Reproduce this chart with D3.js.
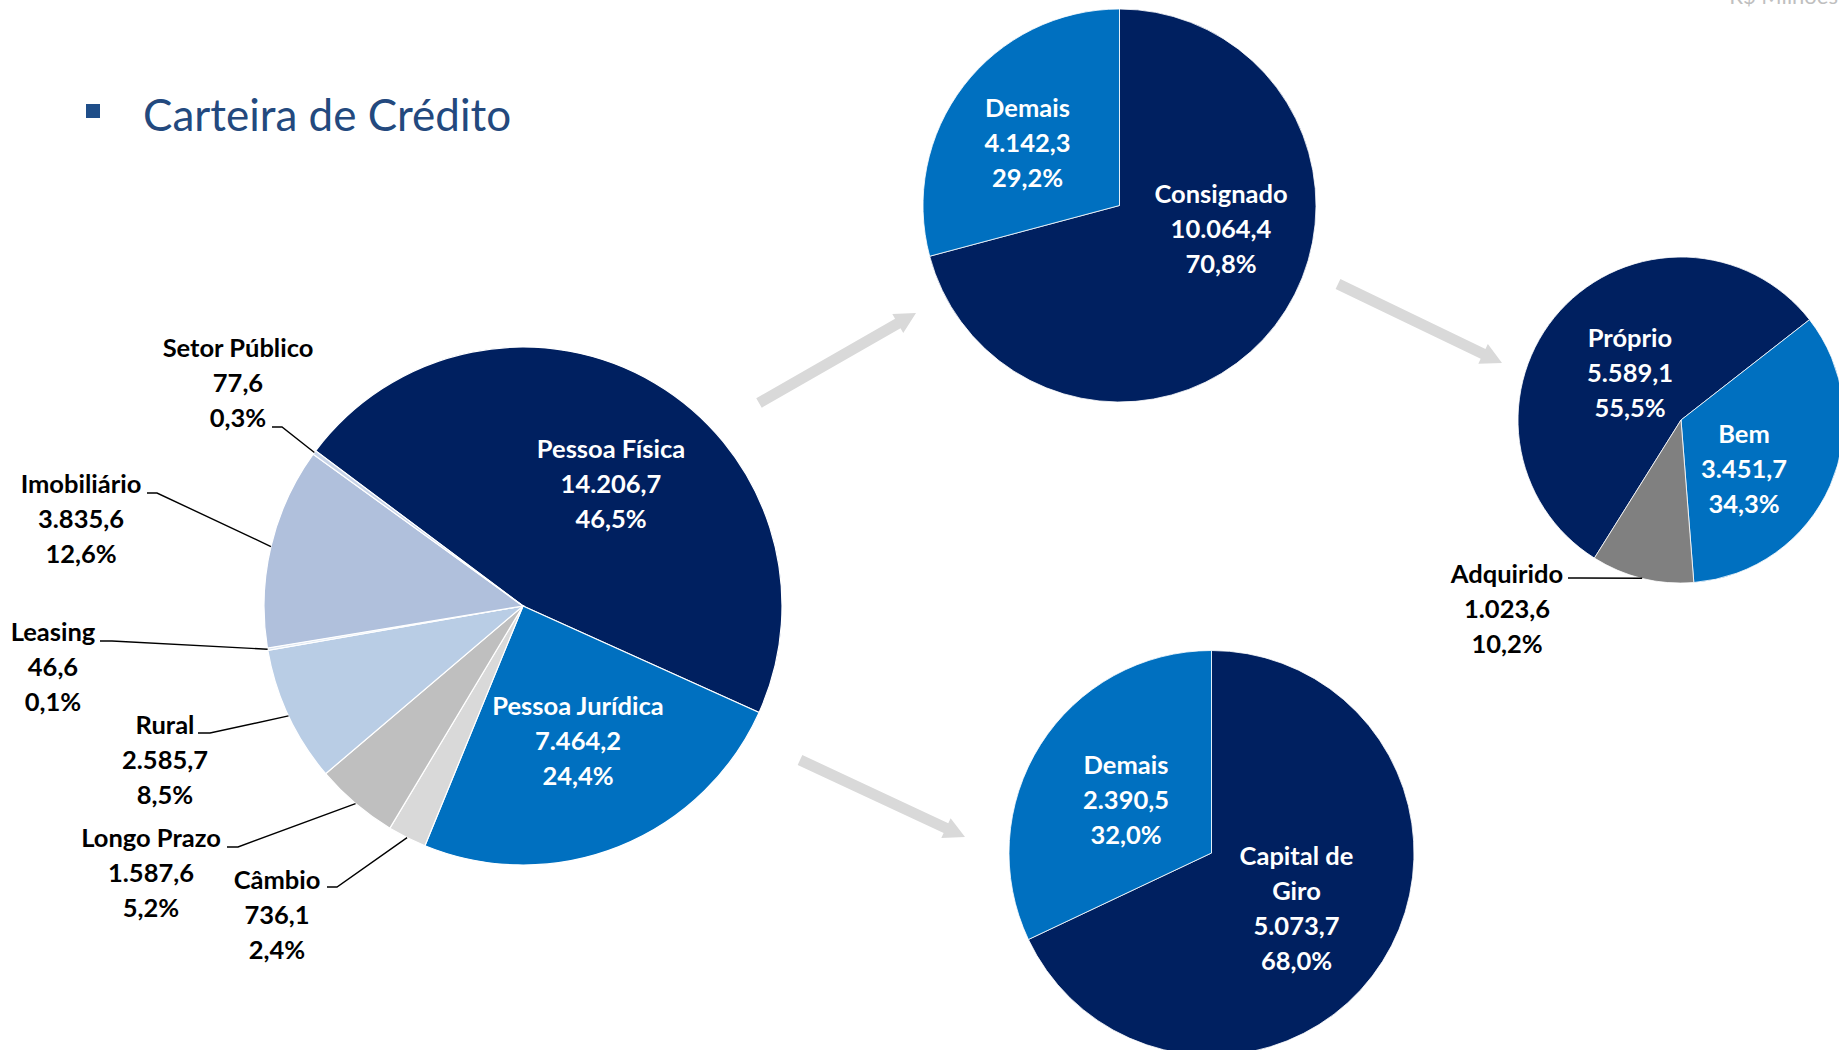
<!DOCTYPE html>
<html><head><meta charset="utf-8">
<script src="https://cdn.jsdelivr.net/npm/d3@7"></script>
<style>body{margin:0;background:#fff;} svg{display:block;}</style>
</head><body><svg id="c" width="1839" height="1050"></svg>
<script>
// ---------- DATA ----------
const mainCategories = ["Pessoa Física","Pessoa Jurídica","Câmbio","Longo Prazo","Rural","Leasing","Imobiliário","Setor Público"];
const mainValues = [14206.7, 7464.2, 736.1, 1587.6, 2585.7, 46.6, 3835.6, 77.6];
const mainPercents = ["46,5%","24,4%","2,4%","5,2%","8,5%","0,1%","12,6%","0,3%"];

const pfCategories = ["Consignado","Demais"];
const pfValues = [10064.4, 4142.3];
const pfPercents = ["70,8%","29,2%"];

const veicCategories = ["Próprio","Bem","Adquirido"];
const veicValues = [5589.1, 3451.7, 1023.6];
const veicPercents = ["55,5%","34,3%","10,2%"];

const pjCategories = ["Capital de Giro","Demais"];
const pjValues = [5073.7, 2390.5];
const pjPercents = ["68,0%","32,0%"];

const titleText = "Carteira de Crédito";
const unitText = "R$ Milhões";

// ---------- STYLE / LAYOUT ----------
const NAVY = "#002060", BLUE = "#0070C0";
const FONT = "Lato, 'Open Sans', sans-serif";
const LABEL_SIZE = 25.5, LINE_H = 35;

const locale = d3.formatLocale({decimal:",", thousands:".", grouping:[3], currency:["R$ ",""]});
const fmt = locale.format(",.1f");

const svg = d3.select("#c");

// arrows (behind)
const arrows = [
  {x1:759, y1:403, x2:916, y2:313},
  {x1:800, y1:760, x2:965, y2:837},
  {x1:1338, y1:284, x2:1502, y2:363}
];
arrows.forEach(a => {
  const dx = a.x2-a.x1, dy = a.y2-a.y1, len = Math.hypot(dx,dy);
  const ux = dx/len, uy = dy/len, nx = -uy, ny = ux;
  const sw = 5.5, hw = 11, hl = 21;
  const bx = a.x2 - ux*hl, by = a.y2 - uy*hl;
  const pts = [
    [a.x1+nx*sw, a.y1+ny*sw], [bx+nx*sw, by+ny*sw], [bx+nx*hw, by+ny*hw],
    [a.x2, a.y2], [bx-nx*hw, by-ny*hw], [bx-nx*sw, by-ny*sw], [a.x1-nx*sw, a.y1-ny*sw]
  ];
  svg.append("polygon").attr("points", pts.map(p=>p.join(",")).join(" ")).attr("fill","#D9D9D9");
});

function drawPie(cfg){
  const g = svg.append("g").attr("transform", `translate(${cfg.cx},${cfg.cy})`);
  const s = cfg.start*Math.PI/180;
  const pie = d3.pie().sort(null).value(d=>d.value).startAngle(s).endAngle(s+2*Math.PI);
  const data = cfg.cats.map((c,i)=>({cat:c, value:cfg.values[i], pct:cfg.pcts[i], color:cfg.colors[i]}));
  const arcs = pie(data);
  const arc = d3.arc().innerRadius(0).outerRadius(cfg.r);
  g.selectAll("path.slice").data(arcs).join("path").attr("class","slice")
    .attr("d", arc).attr("fill", d=>d.data.color)
    .attr("stroke", "#fff").attr("stroke-width", cfg.stroke);
  arcs.forEach((a,i)=>{
    const L = cfg.labels[i];
    const lines = (L.nameLines || [a.data.cat]).concat([fmt(a.data.value), a.data.pct]);
    let x, y;
    if (L.inside){ x = L.dx; y = L.dy; }
    else {
      x = L.x - cfg.cx; y = L.y - cfg.cy;
      const m = (a.startAngle+a.endAngle)/2;
      const px = cfg.r*Math.sin(m), py = -cfg.r*Math.cos(m);
      g.append("polyline")
        .attr("points", `${L.ax-cfg.cx},${L.ay-cfg.cy} ${L.ex-cfg.cx},${L.ay-cfg.cy} ${px},${py}`)
        .attr("fill","none").attr("stroke","#000").attr("stroke-width",1.4);
    }
    const t = g.append("text").attr("font-family", FONT).attr("font-weight", 700)
      .attr("font-size", LABEL_SIZE).attr("text-anchor","middle")
      .attr("fill", L.inside ? "#fff" : "#000");
    lines.forEach((ln,j)=>{
      t.append("tspan").attr("x", x).attr("y", y + j*LINE_H).attr("dy","0.3em").text(ln);
    });
  });
}

drawPie({
  cx:523, cy:606, r:259, start:-53.2, stroke:1.2,
  cats:mainCategories, values:mainValues, pcts:mainPercents,
  colors:[NAVY, BLUE, "#D9D9D9", "#BFBFBF", "#B9CDE5", "#DCE6F2", "#B0C0DC", "#C8D4E8"],
  labels:[
    {inside:true, dx:88, dy:-156},
    {inside:true, dx:55, dy:101},
    {x:277, y:881, ax:327, ay:887, ex:337},
    {x:151, y:839, ax:227, ay:847, ex:238},
    {x:165, y:726, ax:198, ay:733, ex:210},
    {x:53,  y:633, ax:100, ay:641, ex:112},
    {x:81,  y:485, ax:147, ay:493, ex:157},
    {x:238, y:349, ax:272, ay:427, ex:282}
  ]
});

drawPie({
  cx:1119.5, cy:205.5, r:196.5, start:0, stroke:0.8,
  cats:pfCategories, values:pfValues, pcts:pfPercents,
  colors:[NAVY, BLUE],
  labels:[
    {inside:true, dx:101.5, dy:-10.5},
    {inside:true, dx:-92, dy:-96.5}
  ]
});

drawPie({
  cx:1681, cy:420, r:163, start:-147.9, stroke:0.8,
  cats:veicCategories, values:veicValues, pcts:veicPercents,
  colors:[NAVY, BLUE, "#808080"],
  labels:[
    {inside:true, dx:-51, dy:-81},
    {inside:true, dx:63, dy:15},
    {x:1507, y:575, ax:1568, ay:578, ex:1580}
  ]
});

drawPie({
  cx:1211.5, cy:853, r:202.5, start:0, stroke:0.8,
  cats:pjCategories, values:pjValues, pcts:pjPercents,
  colors:[NAVY, BLUE],
  labels:[
    {inside:true, dx:85, dy:4, nameLines:["Capital de","Giro"]},
    {inside:true, dx:-85.5, dy:-87}
  ]
});

// title
svg.append("rect").attr("x",86).attr("y",104).attr("width",14).attr("height",14).attr("fill","#1F4E89");
svg.append("text").attr("x",143).attr("y",131).attr("font-family",FONT).attr("font-size",44)
  .attr("fill","#23497E").text(titleText);
svg.append("text").attr("x",1838).attr("y",4).attr("text-anchor","end").attr("font-family",FONT)
  .attr("font-size",22).attr("fill","#BFBFBF").text(unitText);
</script></body></html>
